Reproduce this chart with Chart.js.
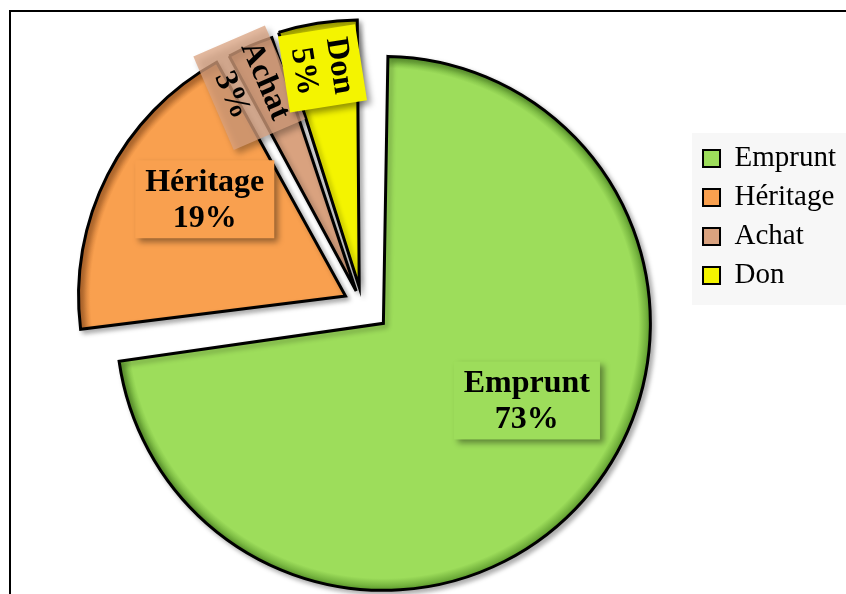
<!DOCTYPE html>
<html>
<head>
<meta charset="utf-8">
<script src="https://cdn.jsdelivr.net/npm/chart.js@4.4.1/dist/chart.umd.min.js"></script>
<style>
  html, body { margin: 0; padding: 0; background: #fff; }
  #wrap { position: relative; width: 846px; height: 594px; }
</style>
</head>
<body>
<div id="wrap"><canvas id="chart"></canvas></div>
<script>
const categories = ["Emprunt", "Héritage", "Achat", "Don"];
const percentages = [73, 19, 3, 5];

const sliceColors = ["#9DDD5B", "#F9A04F", "#D9A27F", "#F4F400"];
const edgeColors = ["#5E9C2E", "#B8682A", "#9A6A4C", "#A0A000"];
// chart.js pushes a slice out by offset / 4 px
const explode = [114, 74, 59, 71];
const pieRadius = 267;

// label spot: fraction of radius, fraction across the slice, rotated along the radius or not
const labelPlacement = [
  { r: 0.61, t: 0.45, rotate: false, alpha: 1 },
  { r: 0.64, t: 0.61, rotate: false, alpha: 1 },
  { r: 0.86, t: 0.1, rotate: true, alpha: 0.75 },
  { r: 0.83, t: 0.47, rotate: true, alpha: 1 },
];

const frame = {
  id: "frame",
  beforeDraw(chart) {
    const { ctx, width, height, legend } = chart;
    ctx.save();
    ctx.fillStyle = "#000";
    ctx.fillRect(9, 10, width - 9, 2);
    ctx.fillRect(9, 10, 2, height - 10);
    // light grey legend panel
    ctx.fillStyle = "#F7F7F7";
    ctx.fillRect(legend.left - 1, legend.top - 1, width - legend.left + 1, 172);
    ctx.restore();
  },
};

// offset also grows the radius in chart.js, undo that so every slice keeps the same size
const keepRadius = {
  id: "keepRadius",
  afterDatasetUpdate(chart, args) {
    const R = args.meta.controller.outerRadius;
    args.meta.data.forEach((arc) => {
      const shift = (arc.options.offset || 0) / 4;
      const fix = 1 - Math.sin(Math.min(Math.PI, arc.circumference));
      arc.outerRadius = R - shift * fix;
    });
  },
};

const pieShadow = {
  id: "pieShadow",
  beforeDatasetsDraw(chart) {
    const ctx = chart.ctx;
    ctx.save();
    ctx.shadowColor = "rgba(0,0,0,0.3)";
    ctx.shadowBlur = 5;
    ctx.shadowOffsetX = 3;
    ctx.shadowOffsetY = 3;
  },
  afterDatasetsDraw(chart) {
    chart.ctx.restore();
  },
};

const sliceLabels = {
  id: "sliceLabels",
  afterDatasetsDraw(chart) {
    const meta = chart.getDatasetMeta(0);
    const R = meta.controller.outerRadius;
    const ctx = chart.ctx;
    ctx.save();
    ctx.font = "bold 32px 'Liberation Serif'";
    ctx.textAlign = "center";
    ctx.textBaseline = "middle";
    meta.data.forEach((arc, i) => {
      const place = labelPlacement[i];
      const mid = (arc.startAngle + arc.endAngle) / 2;
      const shift = (arc.options.offset || 0) / 4;
      const ang = arc.startAngle + place.t * (arc.endAngle - arc.startAngle);
      const x = arc.x + Math.cos(mid) * shift + Math.cos(ang) * R * place.r;
      const y = arc.y + Math.sin(mid) * shift + Math.sin(ang) * R * place.r;
      const lines = [categories[i], percentages[i] + "%"];
      const w = Math.max(...lines.map((s) => ctx.measureText(s).width)) + 20;
      const h = lines.length * 36 + 6;

      ctx.save();
      ctx.translate(x, y);
      if (place.rotate) ctx.rotate(mid + Math.PI);
      ctx.shadowColor = "rgba(0,0,0,0.4)";
      ctx.shadowBlur = 6;
      ctx.shadowOffsetX = 4;
      ctx.shadowOffsetY = 4;
      ctx.globalAlpha = place.alpha;
      ctx.fillStyle = sliceColors[i];
      ctx.fillRect(-w / 2, -h / 2, w, h);
      ctx.globalAlpha = 1;
      ctx.shadowColor = "transparent";
      ctx.fillStyle = "#000";
      ctx.fillText(lines[0], 0, -17);
      ctx.fillText(lines[1], 0, 19);
      ctx.restore();
    });
    ctx.restore();
  },
};

const bevelFill = (c) => {
  const color = sliceColors[c.dataIndex];
  const area = c.chart.chartArea;
  if (!area) return color;
  const cx = (area.left + area.right) / 2;
  const cy = (area.top + area.bottom) / 2;
  const g = c.chart.ctx.createRadialGradient(cx, cy, 0, cx, cy, pieRadius);
  g.addColorStop(0, color);
  g.addColorStop(0.955, color);
  g.addColorStop(1, edgeColors[c.dataIndex]);
  return g;
};

const ctx = document.getElementById("chart");
new Chart(ctx, {
  type: "pie",
  data: {
    labels: categories,
    datasets: [
      {
        data: percentages,
        backgroundColor: bevelFill,
        borderColor: "#000",
        borderWidth: 3,
        borderJoinStyle: "miter",
        offset: explode,
        clip: false,
      },
    ],
  },
  options: {
    responsive: true,
    maintainAspectRatio: false,
    animation: false,
    events: [],
    radius: pieRadius,
    layout: {
      padding: { left: 31, right: 0, top: 134, bottom: 119 },
    },
    plugins: {
      tooltip: { enabled: false },
      legend: {
        display: true,
        position: "right",
        align: "start",
        labels: {
          color: "#000",
          boxWidth: 17,
          boxHeight: 17,
          padding: 10,
          font: { family: "'Liberation Serif'", size: 29 },
          generateLabels: () =>
            categories.map((name, i) => ({
              text: name,
              fillStyle: sliceColors[i],
              strokeStyle: "#000",
              lineWidth: 2,
              fontColor: "#000",
              hidden: false,
              index: i,
            })),
        },
      },
    },
  },
  plugins: [frame, keepRadius, pieShadow, sliceLabels],
});
</script>
</body>
</html>
